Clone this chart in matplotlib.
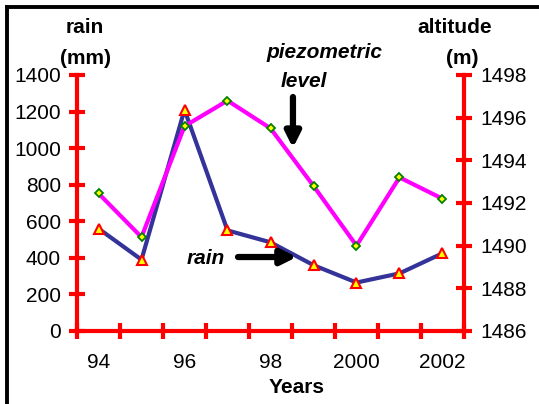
import numpy as np
import matplotlib.pyplot as plt
from matplotlib.lines import Line2D

plt.rcParams['font.family'] = ['Liberation Sans', 'DejaVu Sans']

years      = ['94', '95', '96', '97', '98', '99', '2000', '2001', '2002']
year_ticks = ['94', '96', '98', '2000', '2002']
rain_mm    = [560, 390, 1210, 550, 485, 360, 265, 315, 425]
piezo_m    = [1492.45, 1490.4, 1495.6, 1496.8, 1495.5, 1492.8, 1490.0, 1493.2, 1492.2]

red = '#ff0000'
x = np.arange(len(years))
fs = 15

fig = plt.figure(figsize=(5.39, 4.04), dpi=100)
ax = fig.add_axes([77/539, 1 - 331/404, 387/539, 256/404])
ax2 = ax.twinx()

# rain on the left axis
ax.plot(x, rain_mm, color='#333399', lw=3, zorder=3,
        marker='^', markersize=6.5, markerfacecolor='#ffff00',
        markeredgecolor=red, markeredgewidth=1.5)
ax.set_ylim(0, 1400)
ax.set_yticks(np.arange(0, 1401, 200))
ax.set_xlim(-0.5, len(years) - 0.5)
ax.set_xticks(np.arange(-0.5, len(years), 1))
ax.set_xticklabels([])
ax.set_xticks(x[::2], minor=True)
ax.set_xticklabels(year_ticks, minor=True)

# piezometric level on the right axis
ax2.plot(x, piezo_m, color='#ff00ff', lw=3, zorder=3,
         marker='D', markersize=4.5, markerfacecolor='#ffff00',
         markeredgecolor='#008000', markeredgewidth=1.3)
ax2.set_ylim(1486, 1498)
ax2.set_yticks(np.arange(1486, 1499, 2))

for a in (ax, ax2):
    for s in a.spines.values():
        s.set_visible(False)
    a.patch.set_visible(False)
ax.spines['left'].set_visible(True)
ax.spines['bottom'].set_visible(True)
ax2.spines['right'].set_visible(True)
for s in (ax.spines['left'], ax.spines['bottom'], ax2.spines['right']):
    s.set_color(red)
    s.set_linewidth(3)

ax.tick_params(axis='both', which='major', direction='inout', length=11,
               width=3, color=red, labelsize=fs, pad=6)
ax.tick_params(axis='x', which='minor', length=0, labelsize=fs, pad=16)
ax2.tick_params(axis='y', direction='inout', length=11, width=3,
                color=red, labelsize=fs, pad=6)
ax.tick_params(axis='x', which='major', pad=0)

# axis titles
fig.text(0.158, 0.931, 'rain', ha='center', va='center', fontsize=fs, fontweight='bold')
fig.text(0.158, 0.856, '(mm)', ha='center', va='center', fontsize=fs, fontweight='bold')
fig.text(0.844, 0.931, 'altitude', ha='center', va='center', fontsize=fs, fontweight='bold')
fig.text(0.857, 0.856, '(m)', ha='center', va='center', fontsize=fs, fontweight='bold')
fig.text(0.551, 0.042, 'Years', ha='center', va='center', fontsize=fs, fontweight='bold')

# annotations
ax.text(0.333, 0.285, 'rain', transform=ax.transAxes, ha='center', va='center',
        fontsize=fs, fontweight='bold', fontstyle='italic')
ax.annotate('', xy=(0.568, 0.289), xytext=(0.416, 0.289),
            xycoords='axes fraction', textcoords='axes fraction',
            arrowprops=dict(arrowstyle='-|>,head_length=0.9,head_width=0.45',
                            lw=4.5, color='black', shrinkA=0, shrinkB=0))
ax.text(0.640, 1.086, 'piezometric', transform=ax.transAxes, ha='center', va='center',
        fontsize=fs, fontweight='bold', fontstyle='italic')
ax.text(0.587, 0.973, 'level', transform=ax.transAxes, ha='center', va='center',
        fontsize=fs, fontweight='bold', fontstyle='italic')
ax.annotate('', xy=(0.558, 0.715), xytext=(0.558, 0.914),
            xycoords='axes fraction', textcoords='axes fraction',
            arrowprops=dict(arrowstyle='-|>,head_length=0.9,head_width=0.45',
                            lw=4.5, color='black', shrinkA=0, shrinkB=0))

# chart frame (only left and top are visible in the crop)
fig.add_artist(Line2D([7/539, 7/539], [0, 1 - 7/404], color='black', lw=2.8,
                      transform=fig.transFigure, solid_capstyle='projecting'))
fig.add_artist(Line2D([7/539, 1], [1 - 7/404, 1 - 7/404], color='black', lw=2.8,
                      transform=fig.transFigure, solid_capstyle='projecting'))

fig.savefig('out.png', dpi=100)
